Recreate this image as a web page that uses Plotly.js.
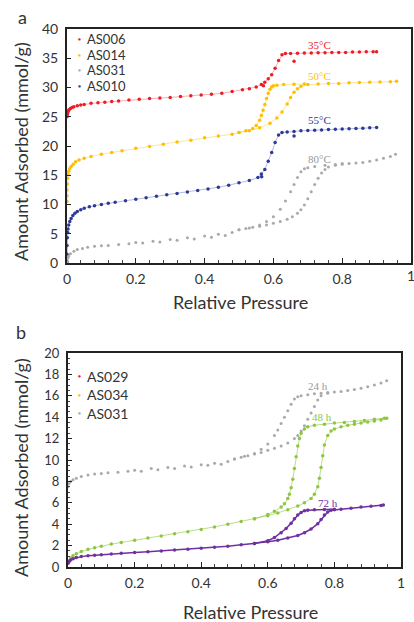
<!DOCTYPE html>
<html>
<head>
<meta charset="utf-8">
<script src="https://cdn.plot.ly/plotly-3.0.1.min.js"></script>
<style>html,body{margin:0;padding:0;background:#fff}#chart{width:414px;height:622px}</style>
</head>
<body>
<div id="chart"></div>
<script>
// ---------- Panel a data ----------
const a006X = [0, 0.001, 0.002, 0.004, 0.006, 0.01, 0.015, 0.02, 0.03, 0.04, 0.05, 0.07, 0.09, 0.11, 0.13, 0.15, 0.18, 0.21, 0.24, 0.27, 0.30, 0.33, 0.36, 0.39, 0.42, 0.45, 0.48, 0.51, 0.53, 0.55, 0.565, 0.575, 0.585, 0.595, 0.605, 0.615, 0.625, 0.635, 0.65, 0.67, 0.69, 0.71, 0.73, 0.75, 0.77, 0.79, 0.81, 0.83, 0.85, 0.87, 0.89, 0.90];
const a006Y = [25.0, 25.4, 25.7, 26.0, 26.2, 26.4, 26.6, 26.7, 26.9, 27.0, 27.1, 27.3, 27.4, 27.5, 27.6, 27.7, 27.85, 28.0, 28.1, 28.2, 28.3, 28.45, 28.6, 28.7, 28.85, 29.0, 29.3, 29.6, 29.8, 30.1, 30.5, 30.9, 31.5, 32.2, 33.3, 34.6, 35.6, 35.8, 35.8, 35.85, 35.9, 35.9, 35.95, 35.95, 36.0, 36.0, 36.0, 36.05, 36.05, 36.1, 36.1, 36.1];
const a006OutX = [0.571, 0.66];
const a006OutY = [30.3, 34.5];

const a014AdsX = [0, 0, 0, 0.001, 0.002, 0.003, 0.005, 0.008, 0.012, 0.018, 0.025, 0.035, 0.05, 0.07, 0.1, 0.13, 0.16, 0.2, 0.24, 0.28, 0.32, 0.36, 0.4, 0.44, 0.48, 0.5, 0.53, 0.56, 0.59, 0.61, 0.625, 0.64, 0.65, 0.66, 0.67, 0.68, 0.7, 0.73, 0.76, 0.79, 0.82, 0.85, 0.88, 0.91, 0.94, 0.958];
const a014AdsY = [10.5, 11.5, 12.5, 13.5, 14.5, 15.2, 15.7, 16.1, 16.5, 16.9, 17.3, 17.6, 17.9, 18.2, 18.6, 18.9, 19.2, 19.6, 19.9, 20.3, 20.7, 21.0, 21.4, 21.7, 22.0, 22.3, 22.6, 23.1, 23.9, 24.8, 25.8, 27.2, 28.3, 29.2, 29.8, 30.2, 30.5, 30.6, 30.7, 30.7, 30.8, 30.85, 30.9, 30.95, 31.0, 31.05];
const a014DesX = [0.5, 0.52, 0.54, 0.55, 0.56, 0.565, 0.57, 0.575, 0.58, 0.585, 0.59, 0.595, 0.6, 0.61, 0.63, 0.66, 0.69];
const a014DesY = [22.3, 22.6, 23.0, 23.5, 24.4, 25.2, 26.1, 27.1, 28.1, 29.0, 29.7, 30.1, 30.3, 30.4, 30.5, 30.55, 30.6];

const a010X = [0, 0, 0, 0.001, 0.002, 0.003, 0.005, 0.008, 0.012, 0.017, 0.023, 0.03, 0.04, 0.05, 0.065, 0.08, 0.1, 0.12, 0.14, 0.17, 0.2, 0.23, 0.26, 0.29, 0.32, 0.35, 0.38, 0.41, 0.44, 0.47, 0.5, 0.53, 0.555, 0.565, 0.575, 0.585, 0.595, 0.605, 0.615, 0.625, 0.64, 0.66, 0.68, 0.7, 0.72, 0.74, 0.76, 0.78, 0.8, 0.82, 0.84, 0.86, 0.88, 0.9];
const a010Y = [0.2, 1.5, 3.0, 4.3, 5.2, 5.8, 6.5, 7.1, 7.6, 8.1, 8.5, 8.8, 9.1, 9.35, 9.6, 9.8, 10.0, 10.2, 10.4, 10.65, 10.9, 11.15, 11.4, 11.65, 11.9, 12.15, 12.4, 12.65, 12.95, 13.3, 13.7, 14.1, 14.6, 15.2, 16.0, 17.4, 18.9, 20.6, 21.9, 22.3, 22.4, 22.5, 22.6, 22.65, 22.7, 22.75, 22.8, 22.85, 22.9, 22.95, 23.0, 23.05, 23.1, 23.15];
const a010OutX = [0.566, 0.66];
const a010OutY = [14.75, 21.7];

const a031LowX = [0, 0.002, 0.005, 0.01, 0.02, 0.03, 0.045, 0.06, 0.08, 0.1, 0.12, 0.15, 0.18, 0.2, 0.22, 0.25, 0.27, 0.3, 0.32, 0.35, 0.37, 0.4, 0.42, 0.44, 0.46, 0.48];
const a031LowY = [0.2, 0.8, 1.2, 1.6, 2.0, 2.3, 2.5, 2.7, 2.85, 2.95, 3.0, 3.15, 3.3, 3.5, 3.4, 3.7, 3.6, 4.0, 3.9, 4.3, 4.1, 4.6, 4.4, 4.9, 4.7, 5.2];
const a031AdsX = [0.5, 0.52, 0.54, 0.56, 0.58, 0.6, 0.62, 0.64, 0.655, 0.67, 0.68, 0.69, 0.7, 0.71, 0.72, 0.73, 0.74, 0.75, 0.76, 0.78, 0.8, 0.82, 0.84, 0.86, 0.88, 0.9, 0.92, 0.94, 0.955];
const a031AdsY = [5.7, 5.9, 6.1, 6.3, 6.5, 6.8, 7.1, 7.5, 7.9, 8.5, 9.1, 9.9, 11.0, 12.2, 13.4, 14.5, 15.4, 16.0, 16.4, 16.7, 16.9, 17.0, 17.1, 17.2, 17.4, 17.6, 17.9, 18.2, 18.6];
const a031DesX = [0.5, 0.53, 0.56, 0.58, 0.6, 0.62, 0.635, 0.65, 0.66, 0.67, 0.68, 0.69, 0.7, 0.72, 0.75, 0.78, 0.8];
const a031DesY = [5.7, 6.0, 6.5, 7.1, 7.9, 9.2, 10.6, 12.2, 13.4, 14.6, 15.6, 16.1, 16.3, 16.5, 16.7, 16.85, 17.0];

// ---------- Panel b data ----------
const b24LowX = [0, 0.003, 0.008, 0.015, 0.025, 0.04, 0.06, 0.08, 0.1, 0.12, 0.15, 0.18, 0.2, 0.22, 0.25, 0.27, 0.3, 0.32, 0.35, 0.37, 0.4, 0.42, 0.44, 0.46, 0.48];
const b24LowY = [7.5, 7.8, 8.0, 8.15, 8.3, 8.45, 8.6, 8.7, 8.75, 8.8, 8.85, 8.95, 9.05, 8.95, 9.2, 9.1, 9.3, 9.2, 9.45, 9.35, 9.55, 9.5, 9.7, 9.6, 9.85];
const b24AdsX = [0.5, 0.52, 0.54, 0.56, 0.58, 0.6, 0.62, 0.64, 0.66, 0.68, 0.69, 0.7, 0.71, 0.72, 0.73, 0.74, 0.75, 0.76, 0.78, 0.8, 0.82, 0.84, 0.86, 0.88, 0.9, 0.92, 0.94, 0.957];
const b24AdsY = [10.1, 10.25, 10.4, 10.55, 10.7, 10.9, 11.1, 11.3, 11.6, 12.0, 12.3, 12.7, 13.2, 13.8, 14.4, 15.0, 15.6, 16.0, 16.25, 16.35, 16.4, 16.5, 16.6, 16.7, 16.85, 17.0, 17.2, 17.4];
const b24DesX = [0.5, 0.53, 0.56, 0.58, 0.6, 0.62, 0.63, 0.64, 0.65, 0.66, 0.67, 0.68, 0.69, 0.7, 0.72, 0.74, 0.76, 0.78];
const b24DesY = [10.1, 10.35, 10.6, 11.0, 11.5, 12.3, 12.8, 13.4, 14.0, 14.6, 15.2, 15.7, 15.9, 16.0, 16.1, 16.2, 16.25, 16.3];

const b48AdsX = [0, 0.003, 0.008, 0.015, 0.025, 0.04, 0.06, 0.08, 0.1, 0.13, 0.16, 0.2, 0.24, 0.28, 0.32, 0.36, 0.4, 0.44, 0.48, 0.52, 0.56, 0.6, 0.63, 0.66, 0.69, 0.71, 0.73, 0.74, 0.75, 0.755, 0.76, 0.765, 0.77, 0.78, 0.79, 0.8, 0.82, 0.84, 0.86, 0.88, 0.9, 0.92, 0.94, 0.957];
const b48AdsY = [0.35, 0.6, 0.85, 1.05, 1.25, 1.45, 1.65, 1.8, 1.95, 2.15, 2.3, 2.5, 2.7, 2.9, 3.1, 3.3, 3.5, 3.75, 4.0, 4.25, 4.5, 4.8, 5.05, 5.35, 5.7, 6.0, 6.4, 6.8, 7.5, 8.3, 9.3, 10.4, 11.4, 12.3, 12.7, 12.9, 13.1, 13.25, 13.35, 13.45, 13.55, 13.65, 13.75, 13.9];
const b48DesX = [0.56, 0.6, 0.62, 0.64, 0.65, 0.66, 0.665, 0.67, 0.675, 0.68, 0.685, 0.69, 0.695, 0.7, 0.71, 0.72, 0.74, 0.77, 0.8, 0.83, 0.86, 0.89, 0.92, 0.95];
const b48DesY = [4.5, 4.9, 5.2, 5.6, 5.9, 6.4, 6.8, 7.4, 8.2, 9.2, 10.3, 11.3, 12.0, 12.5, 12.9, 13.1, 13.25, 13.35, 13.45, 13.5, 13.6, 13.7, 13.8, 13.9];

const b72AdsX = [0, 0.003, 0.008, 0.015, 0.025, 0.04, 0.06, 0.08, 0.1, 0.13, 0.16, 0.2, 0.24, 0.28, 0.32, 0.36, 0.4, 0.44, 0.48, 0.52, 0.56, 0.6, 0.63, 0.66, 0.69, 0.71, 0.73, 0.75, 0.76, 0.77, 0.78, 0.79, 0.8, 0.82, 0.85, 0.88, 0.91, 0.94, 0.947];
const b72AdsY = [0.35, 0.5, 0.65, 0.78, 0.88, 0.97, 1.05, 1.1, 1.15, 1.22, 1.28, 1.35, 1.42, 1.5, 1.58, 1.65, 1.75, 1.85, 1.95, 2.08, 2.2, 2.35, 2.5, 2.7, 2.95, 3.2, 3.55, 4.05, 4.45, 4.85, 5.15, 5.3, 5.35, 5.4, 5.5, 5.6, 5.68, 5.75, 5.8];
const b72DesX = [0.56, 0.6, 0.62, 0.64, 0.655, 0.67, 0.68, 0.69, 0.7, 0.71, 0.72, 0.74, 0.77, 0.8];
const b72DesY = [2.2, 2.45, 2.75, 3.2, 3.6, 4.1, 4.5, 4.85, 5.1, 5.25, 5.3, 5.35, 5.38, 5.4];

const legendA = ["AS006", "AS014", "AS031", "AS010"];
const legendB = ["AS029", "AS034", "AS031"];
const labelsA = ["35\u00B0C", "50\u00B0C", "55\u00B0C", "80\u00B0C"];
const labelsB = ["24 h", "48 h", "72 h"];
const tickValsA = [0, 5, 10, 15, 20, 25, 30, 35, 40];
const tickValsB = [0, 2, 4, 6, 8, 10, 12, 14, 16, 18, 20];
const tickValsX = [0, 0.2, 0.4, 0.6, 0.8, 1];
const tickTextX = ["0", "0.2", "0.4", "0.6", "0.8", "1"];

// ---------- styles ----------
const RED = "#ee1c25", ORANGE = "#ffbf00", BLUE = "#2b3a9a", GRAY = "#a9a9a9", GREEN = "#8dc63f", PURPLE = "#7030a0";
const FONT = "Lato, 'Noto Sans', sans-serif";
const SERIF = "'Liberation Serif', 'DejaVu Serif', serif";

function tr(x, y, color, axis, opts) {
  opts = opts || {};
  const t = {
    x: x, y: y, type: "scatter", mode: opts.line ? "lines+markers" : "markers",
    marker: {color: color, size: opts.size || 3.5},
    xaxis: axis === "b" ? "x2" : "x", yaxis: axis === "b" ? "y2" : "y",
    showlegend: false, hoverinfo: "skip", cliponaxis: false
  };
  if (opts.line) t.line = {color: opts.line, width: opts.lw || 1};
  return t;
}

const data = [
  tr(a006X, a006Y, RED, "a", {line: "rgba(238,28,37,0.35)"}),
  tr(a006OutX, a006OutY, RED, "a"),
  tr(a014AdsX, a014AdsY, ORANGE, "a", {line: "rgba(255,191,0,0.4)"}),
  tr(a014DesX, a014DesY, ORANGE, "a", {line: "rgba(255,191,0,0.4)"}),
  tr(a010X, a010Y, BLUE, "a", {line: "rgba(43,58,154,0.35)"}),
  tr(a010OutX, a010OutY, BLUE, "a"),
  tr(a031LowX, a031LowY, GRAY, "a", {size: 3}),
  tr(a031AdsX, a031AdsY, GRAY, "a", {size: 3}),
  tr(a031DesX, a031DesY, GRAY, "a", {size: 3}),
  tr(b24LowX, b24LowY, GRAY, "b", {size: 3}),
  tr(b24AdsX, b24AdsY, GRAY, "b", {size: 3}),
  tr(b24DesX, b24DesY, GRAY, "b", {size: 3}),
  tr(b48AdsX, b48AdsY, GREEN, "b", {line: "rgba(141,198,63,0.6)"}),
  tr(b48DesX, b48DesY, GREEN, "b", {line: "rgba(141,198,63,0.6)"}),
  tr(b72AdsX, b72AdsY, PURPLE, "b", {line: PURPLE, lw: 1.5}),
  tr(b72DesX, b72DesY, PURPLE, "b", {line: PURPLE, lw: 1.5})
];

const W = 414, H = 622;
const px = v => v / W, py = v => 1 - v / H;

function xAxis(dom, anchor, nTicks) {
  return {
    domain: dom, anchor: anchor, range: [0, 1],
    tickvals: tickValsX.slice(0, nTicks), ticktext: tickTextX.slice(0, nTicks),
    ticks: "inside", ticklen: 5, tickcolor: "#222", tickwidth: 1,
    minor: {dtick: 0.04, ticks: "inside", ticklen: 3, tickcolor: "#444"},
    showline: true, linecolor: "#222", linewidth: 2, mirror: true,
    showgrid: false, zeroline: false, tickfont: {family: FONT, size: 14, color: "#333"},
    ticklabelstandoff: 2
  };
}
function yAxis(dom, anchor, rng, vals, fsize) {
  return {
    domain: dom, anchor: anchor, range: rng, tickvals: vals,
    ticks: "inside", ticklen: 4, tickcolor: "#222",
    showline: true, linecolor: "#222", linewidth: 2, mirror: true,
    showgrid: false, zeroline: false, tickfont: {family: FONT, size: fsize, color: "#333"},
    ticklabelstandoff: 4
  };
}

const ann = [];
function txt(x, y, text, size, color, family, extra) {
  ann.push(Object.assign({xref: "paper", yref: "paper", x: px(x), y: py(y), text: text, showarrow: false,
    font: {family: family || FONT, size: size, color: color || "#333"}, xanchor: "center", yanchor: "middle"}, extra || {}));
}
// panel letters
txt(22, 17, "a", 18, "#333");
txt(21, 332, "b", 18, "#333");
// axis titles
txt(21, 152, "Amount Adsorbed (mmol/g)", 18, "#333", FONT, {textangle: -90});
txt(21, 468, "Amount Adsorbed (mmol/g)", 18, "#333", FONT, {textangle: -90});
txt(240, 302, "Relative Pressure", 18, "#333");
txt(250, 612, "Relative Pressure", 18, "#333");
// right-edge "1" tick label of panel a (clipped by the page edge as in the reference)
ann.push({xref: "x", yref: "paper", x: tickValsX[5], y: py(265), yanchor: "top", xanchor: "center", text: tickTextX[5],
  showarrow: false, font: {family: FONT, size: 14, color: "#333"}});
// legends
const legAColors = [RED, ORANGE, GRAY, BLUE];
legendA.forEach((n, i) => {
  txt(79, 39 + i * 15.7, "\u25CF", 5, legAColors[i]);
  txt(85, 39 + i * 15.7, n, 13, "#333", FONT, {xanchor: "left"});
});
const legBColors = [RED, ORANGE, GRAY];
legendB.forEach((n, i) => {
  txt(79, 376 + i * 18.7, "\u25CF", 5, legBColors[i]);
  txt(85, 376 + i * 18.7, n, 14, "#333", FONT, {xanchor: "left"});
});
// curve labels (data coordinates)
const labAX = [0.735, 0.735, 0.735, 0.735], labAY = [37.2, 32.0, 24.5, 17.8];
const labAC = [RED, ORANGE, BLUE, "#999"];
labelsA.forEach((t, i) => ann.push({xref: "x", yref: "y", x: labAX[i], y: labAY[i], text: t, showarrow: false,
  font: {family: SERIF, size: 11, color: labAC[i]}}));
const labBX = [0.752, 0.762, 0.782], labBY = [16.9, 14.0, 5.95];
const labBC = ["#999", GREEN, PURPLE];
labelsB.forEach((t, i) => ann.push({xref: "x2", yref: "y2", x: labBX[i], y: labBY[i], text: t, showarrow: false,
  font: {family: SERIF, size: 11, color: labBC[i]}}));

const layout = {
  width: W, height: H, margin: {l: 0, r: 0, t: 0, b: 0},
  paper_bgcolor: "#fff", plot_bgcolor: "#fff", showlegend: false,
  xaxis: xAxis([px(67), px(411)], "y", 5),
  yaxis: yAxis([py(263), py(29)], "x", [0, 40], tickValsA, 14),
  xaxis2: xAxis([px(68), px(401)], "y2", 6),
  yaxis2: Object.assign(yAxis([py(567), py(353)], "x2", [0, 20], tickValsB, 13),
    {minor: {dtick: 0.5, ticks: "inside", ticklen: 2, tickcolor: "#444"}}),
  annotations: ann
};

Plotly.newPlot("chart", data, layout, {staticPlot: true});
</script>
</body>
</html>
